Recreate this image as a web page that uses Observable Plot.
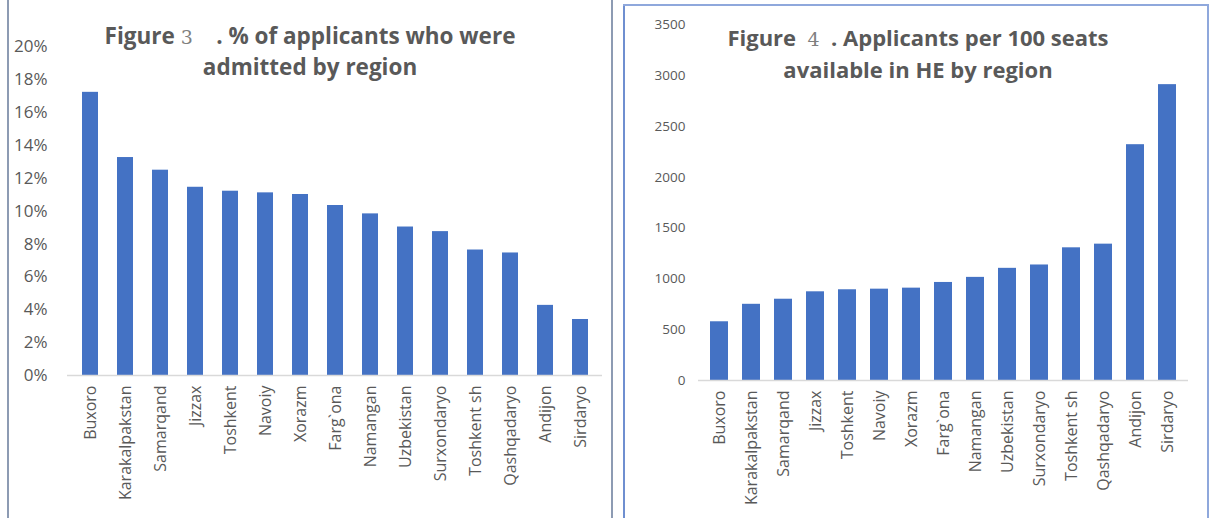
<!DOCTYPE html>
<html>
<head>
<meta charset="utf-8">
<script src="https://cdn.jsdelivr.net/npm/d3@7"></script>
<script src="https://cdn.jsdelivr.net/npm/@observablehq/plot@0.6"></script>
<style>
  html, body { margin: 0; padding: 0; background: #fff; }
  #page { position: relative; width: 1213px; height: 518px; overflow: hidden; background: #fff; }
  .chart { position: absolute; top: 0; }
  .title { position: absolute; text-align: center; font-family: "Open Sans", sans-serif; font-weight: bold; color: #595959; font-size: 22px; line-height: 30px; white-space: nowrap; }
  .num { font-family: "DejaVu Serif", serif; font-weight: normal; color: #7f7f7f; font-size: 19px; }
  .vline { position: absolute; width: 2px; }
  .hline { position: absolute; height: 2px; }
</style>
</head>
<body>
<div id="page">
  <div class="vline" style="left:7px; top:0; height:518px; background:#8d9bb3;"></div>
  <div class="vline" style="left:611px; top:0; height:518px; background:#8d9bb3;"></div>
  <div class="vline" style="left:623px; top:4px; height:514px; background:#6f8fd0;"></div>
  <div class="hline" style="left:623px; top:4px; width:586px; background:#8fa8dc;"></div>
  <div class="vline" style="left:1207px; top:4px; height:514px; background:#8fa8dc;"></div>
  <div id="left" class="chart" style="left:0px;"></div>
  <div id="right" class="chart" style="left:626px;"></div>
  <div class="title" style="left:60px; width:500px; top:21px; font-size:22.5px;">Figure <span class="num">3</span>&nbsp;&nbsp;&nbsp; . % of applicants who were<br>admitted by region</div>
  <div class="title" style="left:668px; width:500px; top:22px;">Figure &nbsp;<span class="num">4</span>&nbsp; . Applicants per 100 seats<br>available in HE by region</div>
</div>
<script>
// Figure 3: % of applicants who were admitted, by region
const regions3 = ["Buxoro","Karakalpakstan","Samarqand","Jizzax","Toshkent","Navoiy","Xorazm","Farg`ona","Namangan","Uzbekistan","Surxondaryo","Toshkent sh","Qashqadaryo","Andijon","Sirdaryo"];
const admitted = [0.1724,0.1327,0.1250,0.1146,0.1122,0.1112,0.1102,0.1035,0.0984,0.0904,0.0876,0.0764,0.0746,0.0427,0.0341];
const ticks3 = [0,0.02,0.04,0.06,0.08,0.10,0.12,0.14,0.16,0.18,0.20];

// Figure 4: applicants per 100 seats available in HE, by region
const regions4 = ["Buxoro","Karakalpakstan","Samarqand","Jizzax","Toshkent","Navoiy","Xorazm","Farg`ona","Namangan","Uzbekistan","Surxondaryo","Toshkent sh","Qashqadaryo","Andijon","Sirdaryo"];
const perSeats = [578,750,800,873,893,899,909,965,1015,1104,1137,1306,1342,2321,2912];
const ticks4 = [0,500,1000,1500,2000,2500,3000,3500];

const BAR = "#4472c4";
const FONT = "Open Sans, sans-serif";

const data3 = regions3.map((r, i) => ({region: r, value: admitted[i]}));
const data4 = regions4.map((r, i) => ({region: r, value: perSeats[i]}));

const left = Plot.plot({
  width: 611, height: 518,
  marginLeft: 67, marginRight: 9, marginTop: 46.5, marginBottom: 143,
  style: {fontFamily: FONT, fontSize: "16px", color: "#595959", background: "transparent"},
  x: {domain: regions3, paddingInner: 0.55, paddingOuter: 0.275, label: null},
  y: {domain: [0, 0.2], label: null},
  marks: [
    Plot.barY(data3, {x: "region", y: "value", fill: BAR}),
    Plot.ruleY([0], {stroke: "#d9d9d9", strokeWidth: 1.5}),
    Plot.axisY({ticks: ticks3, tickFormat: d => Math.round(d * 100) + "%", tickSize: 0, tickPadding: 20, label: null, fontSize: 17, fill: "#595959"}),
    Plot.axisX({tickRotate: -90, tickSize: 0, tickPadding: 10, label: null, fontSize: 16, fill: "#595959"})
  ]
});
document.getElementById("left").appendChild(left);

const right = Plot.plot({
  width: 582, height: 518,
  marginLeft: 72, marginRight: 20, marginTop: 24.4, marginBottom: 138,
  style: {fontFamily: FONT, fontSize: "16px", color: "#595959", background: "transparent"},
  x: {domain: regions4, paddingInner: 0.45, paddingOuter: 0.225, label: null},
  y: {domain: [0, 3500], label: null},
  marks: [
    Plot.barY(data4, {x: "region", y: "value", fill: BAR}),
    Plot.ruleY([0], {stroke: "#d9d9d9", strokeWidth: 1.5}),
    Plot.axisY({ticks: ticks4, tickFormat: d => String(d), tickSize: 0, tickPadding: 13, label: null, fontSize: 13.5, fill: "#595959"}),
    Plot.axisX({tickRotate: -90, tickSize: 0, tickPadding: 10, label: null, fontSize: 16, fill: "#595959"})
  ]
});
document.getElementById("right").appendChild(right);
</script>
</body>
</html>
